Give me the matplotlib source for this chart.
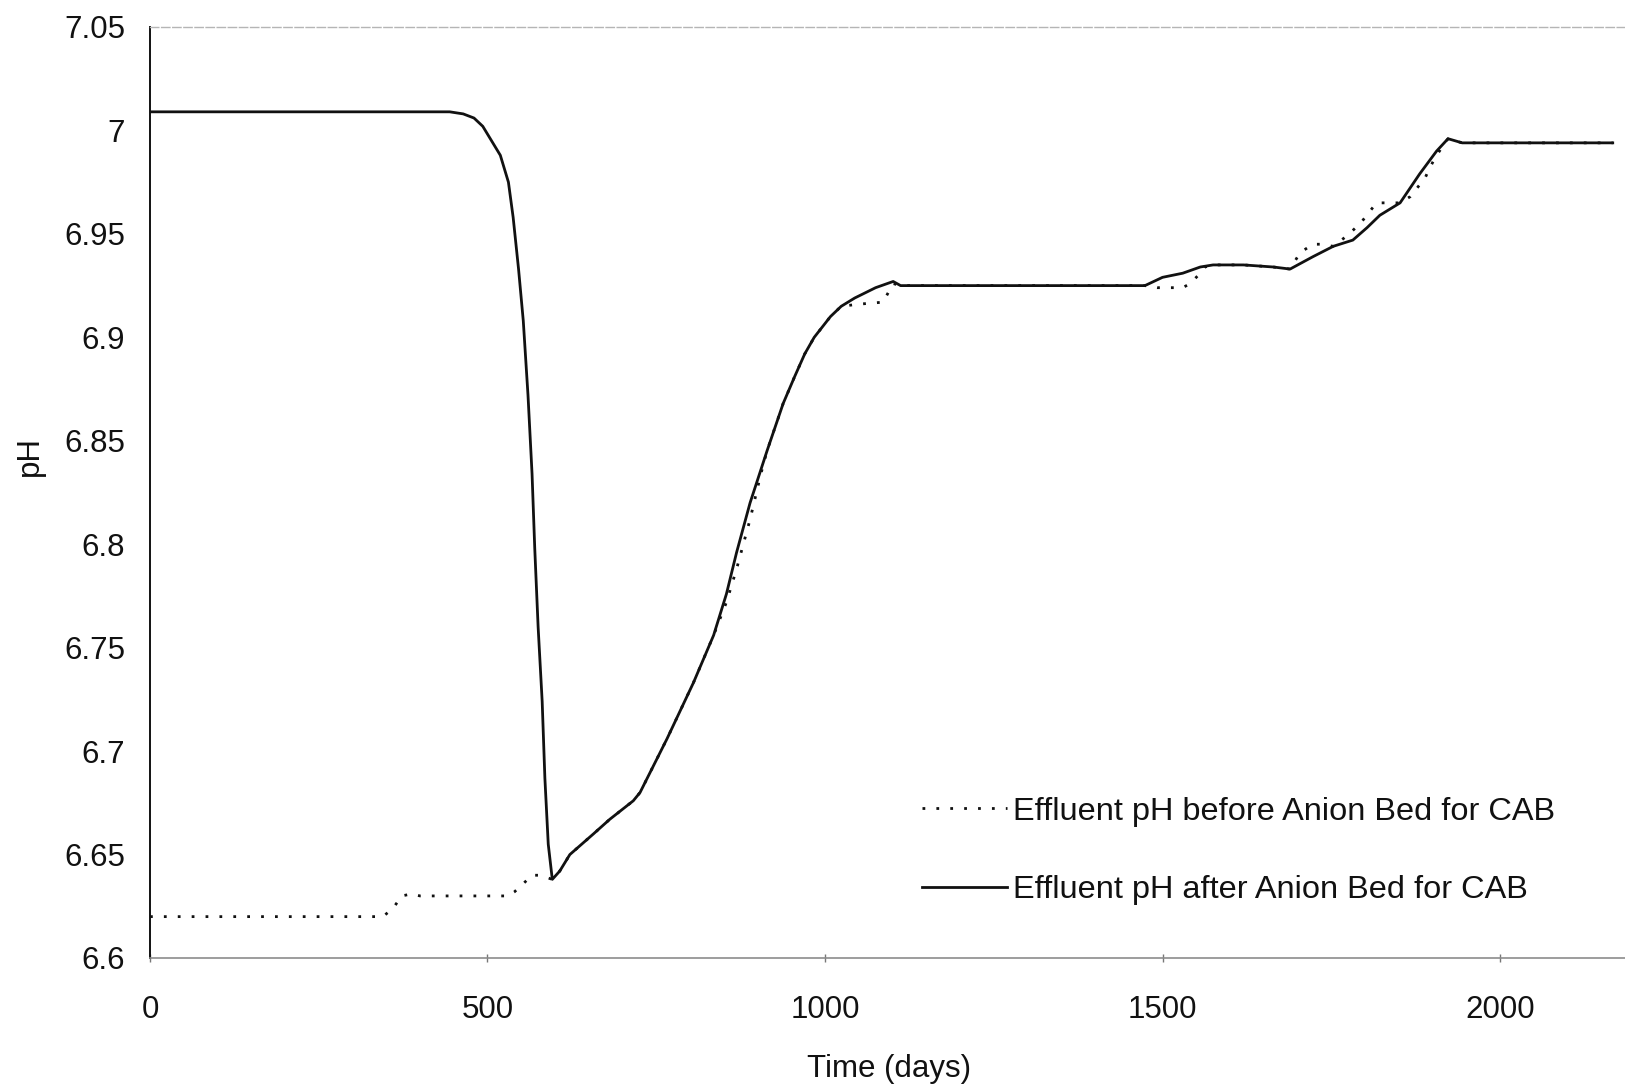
import matplotlib
matplotlib.use("Agg")
import matplotlib.pyplot as plt

plt.rcParams['font.family'] = ['Liberation Sans', 'DejaVu Sans']

# Effluent pH after the anion bed (solid)
t_after = [0, 444, 464, 480, 493, 519, 531, 538, 546, 553, 560,
           566, 570, 575, 581, 585, 590, 596, 607, 622, 657,
           681, 716, 726, 766, 805, 835, 854, 869, 889, 914,
           938, 955, 970, 984, 996, 1008, 1024, 1044, 1075, 1101, 1112, 1300,
           1456, 1474, 1500, 1530, 1556, 1575, 1620, 1664, 1689, 1723,
           1753, 1782, 1803, 1822, 1852, 1881, 1906, 1923, 1944, 2050,
           2167]
ph_after = [7.009, 7.009, 7.008, 7.006, 7.002, 6.988, 6.975, 6.958, 6.933, 6.908, 6.872,
            6.834, 6.798, 6.760, 6.724, 6.687, 6.655, 6.638, 6.642, 6.650, 6.660,
            6.667, 6.676, 6.680, 6.706, 6.733, 6.756, 6.776, 6.796, 6.820, 6.845,
            6.868, 6.881, 6.892, 6.900, 6.905, 6.910, 6.915, 6.919, 6.924, 6.927, 6.925, 6.925,
            6.925, 6.925, 6.929, 6.931, 6.934, 6.935, 6.935, 6.934, 6.933, 6.939,
            6.944, 6.947, 6.953, 6.959, 6.965, 6.979, 6.990, 6.996, 6.994, 6.994,
            6.994]

# Effluent pH before the anion bed (dotted)
t_before = [0, 345, 360, 373, 388, 400, 530, 540, 550, 566,
            575, 587, 596, 607, 622, 657, 681, 716, 726, 766,
            805, 835, 854, 869, 889, 905, 914, 938, 955, 970, 984,
            996, 1008, 1024, 1049, 1086, 1101, 1112, 1300, 1474, 1492, 1530,
            1541, 1556, 1563, 1575, 1620, 1664, 1689, 1704, 1723, 1733,
            1753, 1773, 1793, 1817, 1837, 1852, 1867, 1889, 1896, 1906,
            1923, 1944, 2050, 2167]
ph_before = [6.620, 6.620, 6.624, 6.630, 6.631, 6.630, 6.630, 6.632, 6.635, 6.640,
             6.640, 6.639, 6.638, 6.642, 6.650, 6.660, 6.667, 6.676, 6.680, 6.706,
             6.733, 6.756, 6.772, 6.788, 6.812, 6.834, 6.845, 6.868, 6.881, 6.892, 6.900,
             6.905, 6.910, 6.915, 6.916, 6.917, 6.926, 6.925, 6.925, 6.925, 6.924, 6.924,
             6.926, 6.931, 6.934, 6.935, 6.935, 6.934, 6.933, 6.941, 6.945, 6.945,
             6.944, 6.949, 6.955, 6.965, 6.965, 6.965, 6.968, 6.977, 6.982, 6.988,
             6.996, 6.994, 6.994, 6.994]

y_ticks = [6.6, 6.65, 6.7, 6.75, 6.8, 6.85, 6.9, 6.95, 7.0, 7.05]
y_tick_labels = ['6.6', '6.65', '6.7', '6.75', '6.8', '6.85', '6.9', '6.95', '7', '7.05']
x_ticks = [0, 500, 1000, 1500, 2000]
x_tick_labels = ['0', '500', '1000', '1500', '2000']

label_before = 'Effluent pH before Anion Bed for CAB'
label_after = 'Effluent pH after Anion Bed for CAB'

FS = 22.5
INK = '#111111'

fig = plt.figure(figsize=(16.25, 10.89), dpi=100)
ax = fig.add_axes([150 / 1625, 131 / 1089, 1475 / 1625, 931 / 1089])

ax.plot(t_before, ph_before, color=INK, lw=2.0, linestyle=(0, (1, 4)),
        zorder=2, label=label_before)
ax.plot(t_after, ph_after, color=INK, lw=2.0, solid_joinstyle='round',
        zorder=3, label=label_after)

ax.set_xlim(0, 1475 / 0.675)
ax.set_ylim(6.6, 7.05)

ax.set_yticks(y_ticks)
ax.set_yticklabels(y_tick_labels)
ax.set_xticks(x_ticks)
ax.set_xticklabels(x_tick_labels)

ax.tick_params(axis='y', length=0, pad=18, labelsize=FS, labelcolor=INK)
ax.tick_params(axis='x', length=6, width=1, direction='inout', color='#777777',
               pad=24, labelsize=FS, labelcolor=INK)

ax.spines['left'].set_color(INK)
ax.spines['left'].set_linewidth(1.4)
ax.spines['right'].set_visible(False)
ax.spines['top'].set_color('#b5b5b5')
ax.spines['top'].set_linewidth(1.0)
ax.spines['top'].set_linestyle((0, (6, 2)))
ax.spines['bottom'].set_color('#8c8c8c')
ax.spines['bottom'].set_linewidth(1.2)

ax.set_xlabel('Time (days)', fontsize=FS, color=INK)
ax.xaxis.set_label_coords(0.501, -0.1035)
ax.set_ylabel('pH', fontsize=FS, color=INK)
ax.yaxis.set_label_coords(-0.0712, 0.539)

leg = ax.legend(loc='center left', bbox_to_anchor=(0.5234, 0.1150),
                frameon=False, fontsize=23.4, handlelength=2.6,
                handletextpad=0.2, labelspacing=1.5, borderpad=0,
                borderaxespad=0)
for txt in leg.get_texts():
    txt.set_color(INK)

fig.savefig('out.png', dpi=100, facecolor='white')
